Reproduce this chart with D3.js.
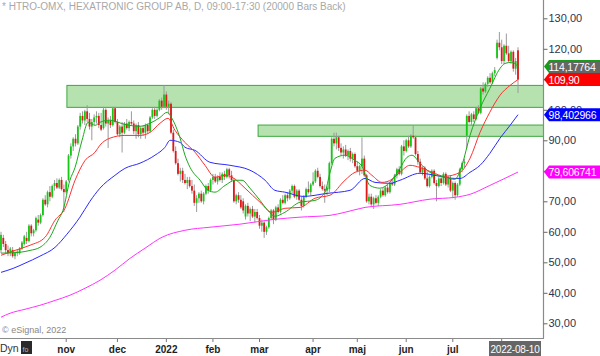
<!DOCTYPE html>
<html><head><meta charset="utf-8">
<script src="https://cdn.jsdelivr.net/npm/d3@7"></script>
<style>body{margin:0;background:#fff}svg{display:block}text{font-family:Arial,"Liberation Sans",sans-serif}</style>
</head><body><svg id="c" width="600" height="356"></svg>
<script>
// ---- DATA ----
const title = "* HTRO-OMX, HEXATRONIC GROUP AB, D, 09:00-17:30 (20000 Bars Back)";
// daily candles [open, high, low, close], bar 0 = late Sep 2021, last bar = 2022-08-10
const ohlc = [
[54,60,53,59],[58,59,55,56],[56,57,53,54],[54,55.5,52,53],[53,55,52,54.5],[54,55,51.5,52],[52,53.5,51,53],[53,54,52,53.5],[53,55,52.5,54.5],[54.5,57,54,56.5],
[56,59,55.5,58.5],[58,60,56,57],[57,62.5,56.5,62],[62,62.5,58.5,59.5],[59.5,61,58.5,60.5],[60.5,65,60,64.5],[64,65.5,62,63],[63,66,62.5,65.5],[65.5,71,65,70.5],[70.5,72,68.5,69],
[69,73.5,68,73],[73,75,70,71.5],[71.5,75.5,71,75],[75,77,73.5,76],[76,77.5,74,74.5],[74.5,77.5,74,77],[77,78,73.5,74],[74,75.5,66.5,73],[73,77,72.5,76.5],[77,85.5,76.5,85],
[85,89,84,88],[88,91,86.5,90.5],[90.5,92,88,89],[89,95,88.5,94.5],[94.5,99,93.5,98],[98,99.5,95.5,96.5],[96.5,100,95,99.5],[99.5,101.5,96,97],[97,99,93.5,94.5],[94.5,97,90,96],
[96,98.5,95,97.5],[97.5,99.5,95.5,98],[98,99,94,95],[95,99,93,93.5],[94,101,93.5,100],[100,100.5,94.5,95.5],[95.5,97.5,87.5,96.5],[96.5,98,94,95],[95,101,94.5,100.5],[100.5,101,95.5,96],
[96,97,91.5,92],[92,95,91,94.5],[94.5,96,86,92.5],[92.5,96,92,95.5],[95.5,97,93.5,94],[94,96.5,93,96],[96,99.5,95,95.5],[95.5,96.5,92,93],[93,95.5,90.5,95],[95,96,91,92],
[92,94.5,90.5,94],[94,95,91.5,92.5],[92.5,95.5,90.5,95],[95,95.5,92,93],[93,98,92.5,97.5],[97.5,100.5,97,100],[100,101,97,98],[98,100.5,97.5,100],[100,103.5,99.5,103],[103,104,100,101],
[101,108,100.5,105],[105,106,100,101],[101,103,98.5,102],[102,102.5,92,92.5],[92.5,93.5,86,86.5],[86.5,88,82,82.5],[82.5,84,78.5,79],[79,81,76.5,80],[80,81,76,77],[77,79,75.5,76],
[76,78,74,77],[77,78,74.5,75],[75,77,72.5,73.5],[73.5,75.5,68.5,69.5],[69.5,72,66.5,71],[71,73,69.5,72.5],[72.5,73.5,69.5,70],[70,73,69,72.5],[72.5,75.5,72,75],[75,76,72.5,73.5],
[73.5,77.5,73,77],[77,79,75.5,78],[78,79,76,76.5],[76.5,78.5,75.5,78],[78,79.5,76.5,77],[77,79.5,76,79],[79,80,77,78],[78,81,77.5,80.5],[80.5,81,77.5,78.5],[78.5,80,76.5,77],
[77,77.5,69.5,70],[70,72.5,69,72],[72,73,69.5,70.5],[70.5,72,67.5,68],[70,71,66,67],[65,69,64,68.5],[68.5,69.5,65,66],[66,68,63.5,67.5],[67.5,68.5,64.5,65],[65,67.5,63,66.5],
[66.5,67.5,64,64.5],[64.5,65.5,61,62],[62,64,60,63],[63,63.5,58,60],[60,62,59,61.5],[61.5,65,61,64.5],[64.5,67.5,64,67],[67,67.5,62.5,64],[64,68.5,63.5,68],[68,69,66,66.5],
[66.5,71,66,70.5],[70.5,72,69,69.5],[69.5,72.5,69,72],[72,73,70,71],[71,74,70.5,73.5],[73.5,75.5,72.5,75],[75,75.5,71,71.5],[71.5,74,70.5,73.5],[73.5,74,70,70.5],[70.5,71.5,67,68.5],
[68.5,72,68,71.5],[71.5,74.5,71,74],[74,76.5,72.5,73],[73,76,72,75.5],[75.5,79.5,75,76.5],[76.5,80.5,76,80],[80,81,77.5,78],[78,79,74.5,75],[75,76.5,73.5,74],[74,75.5,69.5,73.5],
[73.5,75,72,74.5],[74,83,73,82.5],[82.5,91,82,90.5],[90.5,92.5,88,89],[89,92.5,87,91],[91,91.5,86.5,87.5],[87.5,89,85,86],[86,88,84,87],[87,88.5,84.5,85],[85,87,83.5,86.5],
[86.5,87.5,83,84],[84,86,82.5,85.5],[85.5,86,81,81.5],[81.5,83,79.5,80],[80,82,78.5,81.5],[81.5,91,79,84],[84,85,78,78.5],[78.5,79,69.5,70],[70,72.5,69,71.5],[71.5,72.5,68.5,69],
[69,71.5,67.5,71],[71,72,69,69.5],[69.5,72,68.5,71.5],[71.5,74,71,73.5],[73.5,74.5,71.5,72],[72,75,71.5,74.5],[74.5,75.5,72.5,73],[73,76.5,72.5,76],[76,77.5,75,75.5],[75.5,79,75,78.5],
[78.5,81,77.5,80.5],[80.5,81.5,78.5,79],[79,88.5,78.5,88],[88,90,85,86.5],[86.5,90.5,86,90],[90,91.5,87.5,88],[88,92,87.5,91.5],[91.5,95,90.5,91],[91,91.5,85,85.5],[85.5,86.5,82,83],
[83,84,79,79.5],[79.5,81.5,78.5,81],[81,81.5,77,77.5],[77.5,80,74.5,75],[75,78.5,74.5,78],[78,80.5,77.5,80],[80,80.5,75.5,76],[76,77,70,75],[75,78,74.5,77.5],[77.5,78,75,76],
[76,79.5,75.5,79],[79,79.5,75,75.5],[75.5,78.5,74.5,77.5],[77.5,78.5,73,73.5],[73.5,76.5,71,76],[76,76.5,70.5,72],[72,76,71.5,75.5],[75.5,81,75,80.5],[80.5,83,79.5,82.5],[82.5,84,81,83],
[91.5,98.5,87.5,98],[98,99.5,95.5,96],[96,99,95,98.5],[98.5,99.5,96,97],[97,101,96.5,100.5],[100.5,101.5,98.5,99],[99,107.5,98.5,107],[107,109,105,106],[106,109,105.5,108.5],[108.5,111,107.5,110.5],
[110.5,112,108.5,109],[109,112.5,108.5,112],[112,114,111,113],[117,123,116.5,122],[122,125.5,119.5,120.5],[120.5,123,115,116],[116,121.5,115,121],[121,125,118,118.5],[118.5,121,115.5,116],[116,119.5,115,119],
[119,119.5,112.5,113.5],[113.5,117,111.5,116],[119.5,120.5,105.5,109.9]
];
// moving averages, [bar index, value]
const maGreen = [[0,53],[8.2,53.3],[12.5,53.9],[16.7,54.9],[21,58.2],[24.5,63.8],[26.6,67],[29.6,76.9],[31.8,81.1],[34.8,90],[37.4,95.9],[40.4,94.9],[42.5,95.9],[46.8,96.6],[53.2,95.2],[59.7,94.6],[64,95.6],[68.3,97.5],[71.3,99.2],[73.4,97.2],[76.9,90.7],[79,85.1],[81.2,81.1],[85.5,76.9],[88.9,73.6],[91.9,73],[96.2,75.2],[100.5,76.9],[103.5,76.9],[106.9,74.3],[111.2,70.3],[114.6,67],[117.6,65.1],[121.9,66.4],[128.4,69.7],[134.8,70.3],[139.1,73],[141.3,79.5],[143.4,84.1],[147.7,85.1],[152,83.4],[155,81.5],[158.4,75.2],[162.7,74.3],[167,76.2],[171.3,80.8],[174.3,84.4],[176.5,85.1],[179.9,82.5],[184.2,79.5],[190.6,77.9],[194.9,77.2],[197.9,81.8],[201.4,91.6],[205.7,100.5],[209.9,107],[214.3,113.6],[216.4,115.2],[219.5,115.6],[222,114.18]];
const maRed = [[0,52.3],[6,53.9],[12.5,55.6],[18.9,58.2],[23.2,63.8],[27.5,67.7],[31.8,76.9],[36.1,83.4],[40.4,86.1],[42.5,88.4],[46.8,90.7],[53.2,91.6],[59.7,91.6],[64,92.6],[68.3,95.6],[71.7,97.2],[74.7,93.3],[79,89.3],[83.3,86.1],[87.6,81.8],[91.9,77.9],[96.2,78.5],[99.2,77.9],[104.8,74.3],[111.2,69.7],[116.4,66.4],[121.9,67.7],[128.4,68],[134.8,71],[141.3,72],[147.7,76.9],[152,79.5],[156.3,80.2],[159.3,78.5],[163.6,76.2],[167.9,77.2],[171.3,79.5],[175.6,81.8],[179.9,81.1],[185.1,79.5],[190.6,78.2],[197.1,79.5],[201.4,84.1],[205.7,92.6],[209.9,99.2],[214.3,104.8],[218.6,108],[222,109.9]];
const maBlue = [[0,46.7],[5.2,48],[10.3,49.7],[16.7,52],[23.2,54.9],[28.3,59.2],[33.9,64.8],[38.2,70],[42.5,74.3],[48.9,78.5],[53.2,80.8],[59.7,82.5],[66.1,85.1],[70.4,87.7],[72.6,90],[76.9,89.3],[79,87.7],[83.3,86.7],[89.7,82.8],[98.3,81.8],[106.9,80.2],[113.4,76.9],[117.6,73.6],[121.9,73],[129.7,71.6],[140,72.6],[149.9,73.6],[156.3,77.5],[160.6,76.2],[167,75.9],[171.3,76.9],[179.9,79.2],[188.5,78.2],[194.9,77.5],[197.1,77.5],[201.4,79.5],[205.7,81.8],[209.9,85.7],[214.3,90.7],[218.6,94.9],[222,98.4]];
const maMagenta = [[0,32],[3.9,33.3],[10.3,34.6],[16.7,35.9],[23.2,37.5],[29.6,39.2],[36.1,41.5],[42.5,44.1],[48.9,47.4],[55.4,51.3],[61.8,54.6],[69.1,58.2],[79,60.5],[89.7,61.5],[102.6,62.5],[117.6,64.1],[128.4,64.8],[141.3,65.4],[147.7,66.4],[156.3,68],[171.3,69],[184.2,70.7],[194.9,71.3],[201.4,72.3],[209.9,75.2],[222,79.6]];
// support / resistance zones: start bar, low, high
const zones = [[28.3,100.8,108],[110.4,91.3,95]];
// last-value labels
const valueLabels = [["114,17764",114.17764,"green"],["109,90",109.9,"red"],["98,402966",98.402966,"blue"],["79,606741",79.606741,"magenta"]];
const yTicks = [30,40,50,60,70,80,90,100,110,120,130];
const yTickLabels = ["30,00","40,00","50,00","60,00","70,00","","90,00","100,00","","120,00","130,00"];
const monthTicks = [[28,"nov"],[50,"dec"],[71,"2022"],[91,"feb"],[111,"mar"],[134,"apr"],[153,"maj"],[174,"jun"],[194,"jul"],[215,""]];
const lastDate = "2022-08-10";

// ---- CHART ----
const svg = d3.select("#c");
const W = 600, H = 356, axisX = 543, axisY = 338;
const x = d3.scaleLinear().domain([0, ohlc.length - 1]).range([1, 518]);
const y = d3.scaleLinear().domain([30, 130]).range([323.3, 18.3]);

svg.append("defs").append("clipPath").attr("id","plot").append("rect")
  .attr("x",0).attr("y",0).attr("width",axisX).attr("height",axisY);
const plot = svg.append("g").attr("clip-path","url(#plot)");

// zones
plot.selectAll(".zone").data(zones).enter().append("rect")
  .attr("x", d => x(d[0])).attr("y", d => y(d[2]))
  .attr("width", d => axisX + 2 - x(d[0])).attr("height", d => y(d[1]) - y(d[2]))
  .attr("fill","#b6e2b0").attr("stroke","#3ea83e").attr("stroke-width",1);

// candles
const cg = plot.append("g");
cg.selectAll("line").data(ohlc).enter().append("line")
  .attr("x1",(d,i)=>x(i)).attr("x2",(d,i)=>x(i))
  .attr("y1",d=>y(d[1])).attr("y2",d=>y(d[2]))
  .attr("stroke","#9a9a9a").attr("stroke-width",1);
cg.selectAll("rect").data(ohlc).enter().append("rect")
  .attr("x",(d,i)=>x(i)-0.9).attr("width",1.8)
  .attr("y",d=>y(Math.max(d[0],d[3])))
  .attr("height",d=>Math.max(1,Math.abs(y(d[0])-y(d[3]))))
  .attr("fill",d=>d[3]>=d[0]?"#14c814":"#e01818");

// moving averages
const line = d3.line().x(d=>x(d[0])).y(d=>y(d[1])).curve(d3.curveMonotoneX);
[[maMagenta,"#ff33ff"],[maBlue,"#2a2aff"],[maRed,"#ff3030"],[maGreen,"#1aa81a"]].forEach(([data,col])=>{
  plot.append("path").datum(data).attr("d",line).attr("fill","none")
    .attr("stroke",col).attr("stroke-width",1);
});

// axes lines
svg.append("line").attr("x1",axisX+0.5).attr("x2",axisX+0.5).attr("y1",0).attr("y2",axisY+0.5)
  .attr("stroke","#8a8a8a").attr("stroke-width",1.2);
svg.append("line").attr("x1",0).attr("x2",axisX+1).attr("y1",axisY+0.5).attr("y2",axisY+0.5)
  .attr("stroke","#8a8a8a").attr("stroke-width",1.2);

// right axis
const yAxis = d3.axisRight(y).tickValues(yTicks).tickSize(4).tickPadding(1)
  .tickFormat((d,i)=>yTickLabels[i]);
const ya = svg.append("g").attr("transform",`translate(${axisX+0.5},0)`).call(yAxis);
ya.select(".domain").remove();
ya.selectAll("line").attr("stroke","#666");
ya.selectAll("text").attr("fill","#2b3552").attr("font-size",11);

// value labels
const lcol = {green:["#1a9a1a","#666666"], red:["#ff0000","#ff0000"], blue:["#0000ff","#0000ff"], magenta:["#ff00ff","#ff00ff"]};
valueLabels.forEach(([t,v,c])=>{
  const yy = y(v), h = 13;
  const g = svg.append("g");
  g.append("path").attr("d",`M${axisX+1},${yy} L${axisX+6},${yy-h/2} L${W},${yy-h/2} L${W},${yy+h/2} L${axisX+6},${yy+h/2} Z`)
    .attr("fill",lcol[c][0]);
  if (c==="green") {
    g.append("rect").attr("x",axisX+6).attr("y",yy-h/2+1.5).attr("width",W-axisX-6).attr("height",h-1.5).attr("fill",lcol[c][1]);
  }
  g.append("text").attr("x",axisX+5.5).attr("y",yy+4).attr("fill","#fff").attr("font-size",10.5)
    .attr("letter-spacing",-0.2).text(t);
});

// bottom axis
const bx = svg.append("g");
bx.selectAll("line").data(monthTicks).enter().append("line")
  .attr("x1",d=>x(d[0])).attr("x2",d=>x(d[0])).attr("y1",axisY+1).attr("y2",axisY+4)
  .attr("stroke","#777");
bx.selectAll("text").data(monthTicks).enter().append("text")
  .attr("x",d=>x(d[0])).attr("y",353).attr("text-anchor","middle")
  .attr("font-size",10).attr("font-weight","bold").attr("fill","#1e1e1e").text(d=>d[1]);
svg.append("rect").attr("x",489).attr("y",341).attr("width",52).attr("height",15).attr("fill","#666");
svg.append("text").attr("x",515).attr("y",352.5).attr("text-anchor","middle").attr("fill","#fff")
  .attr("font-size",10).attr("letter-spacing",-0.2).text(lastDate);

svg.append("text").attr("x",0).attr("y",352).attr("font-size",10.5).attr("fill","#333").text("Dyn");
svg.append("rect").attr("x",21).attr("y",341).attr("width",11).attr("height",13).attr("fill","#2a2a2a");
svg.append("text").attr("x",22.5).attr("y",352).attr("font-size",7).attr("fill","#bbb").text("fo");

// title & copyright
svg.append("text").attr("x",2).attr("y",10).attr("font-size",10).attr("fill","#a8a8a8").text(title);
svg.append("text").attr("x",2).attr("y",333).attr("font-size",9).attr("fill","#888").text("© eSignal, 2022");
</script></body></html>
